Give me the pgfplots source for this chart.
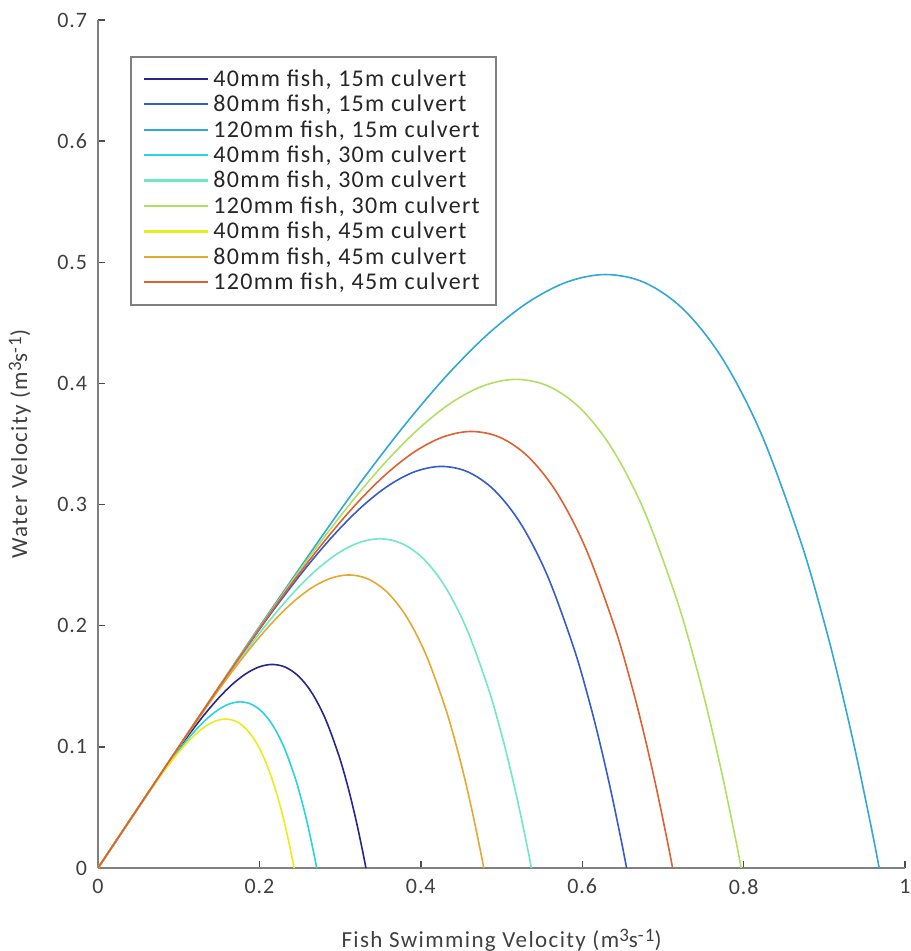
\documentclass[border=0pt]{standalone}
\usepackage{pgfplots}
\pgfplotsset{compat=1.18}
\usepackage{fontspec}
\setmainfont{Carlito}
\newfontfamily\trk[LetterSpace=6]{Carlito}
\newfontfamily\trkl[LetterSpace=5.5]{Carlito}
\newfontfamily\trkt[LetterSpace=4]{Carlito}
\newcommand\sups[1]{\raisebox{0.55ex}{\fontsize{9.5}{10}\selectfont #1}}
\definecolor{cA}{RGB}{38,38,140}
\definecolor{cB}{RGB}{52,92,204}
\definecolor{cC}{RGB}{48,168,216}
\definecolor{cD}{RGB}{40,212,224}
\definecolor{cE}{RGB}{112,232,200}
\definecolor{cF}{RGB}{176,224,96}
\definecolor{cG}{RGB}{236,236,24}
\definecolor{cH}{RGB}{232,168,48}
\definecolor{cI}{RGB}{224,96,48}
\definecolor{axgray}{RGB}{128,128,128}
\begin{document}
\begin{tikzpicture}[x=1pt,y=1pt]
\useasboundingbox (0,0) rectangle (455,475.5);
\begin{axis}[
  at={(49pt,41.5pt)}, anchor=south west,
  scale only axis, width=403.5pt, height=424pt,
  xmin=0, xmax=1, ymin=0, ymax=0.7,
  xtick={0,0.2,0.4,0.6,0.8,1}, ytick={0,0.1,0.2,0.3,0.4,0.5,0.6,0.7},
  axis x line*=bottom, axis y line*=left,
  axis line style={draw=axgray, line width=1.1pt},
  tick style={draw=black!70, line width=0.7pt},
  major tick length=3.5pt, tick align=inside,
  /pgf/number format/assume math mode=true,
  ticklabel style={font=\trkt\fontsize{11}{13}\selectfont, text=black!75},
  xticklabel style={yshift=-2pt},
  yticklabel style={xshift=-2pt},
  label style={font=\trk\fontsize{11.5}{13}\selectfont, text=black!75},
  xlabel={Fish Swimming Velocity (m\sups{3}s\sups{-1})},
  ylabel={Water Velocity (m\sups{3}s\sups{-1})},
  xlabel style={at={(axis description cs:0.5,-0.085)}, anchor=center},
  ylabel style={at={(axis description cs:-0.097,0.5)}, anchor=center},
  legend style={at={(0.04,0.957)}, anchor=north west, draw=axgray, line width=1pt,
    font=\trkl\fontsize{12}{13}\selectfont, text=black!85, row sep=-1.1pt, inner xsep=6pt, inner ysep=4pt},
  legend cell align=left,
  legend image code/.code={\draw[#1, line width=1.1pt] (0pt,0.3pt) -- (32pt,0.3pt);},
  every axis plot/.append style={line width=0.8pt, smooth, tension=0.55},
  clip=false,
]
\addplot[cA] coordinates {(0,0) (0.0332,0.03319) (0.0664,0.06616) (0.0996,0.09813) (0.1162,0.11325) (0.1328,0.12742) (0.1494,0.14027) (0.166,0.15133) (0.1826,0.16007) (0.1992,0.16587) (0.2158,0.16802) (0.2324,0.16571) (0.249,0.15803) (0.2656,0.14397) (0.2822,0.12242) (0.2988,0.09215) (0.30876,0.06926) (0.3154,0.05183) (0.32204,0.03257) (0.32868,0.01136) (0.332,0)};
\addlegendentry{40mm fish, 15m culvert}
\addplot[cB] coordinates {(0,0) (0.0655,0.06548) (0.131,0.13053) (0.1965,0.19359) (0.22925,0.22343) (0.262,0.2514) (0.29475,0.27673) (0.3275,0.29856) (0.36025,0.3158) (0.393,0.32724) (0.42575,0.33148) (0.4585,0.32692) (0.49125,0.31177) (0.524,0.28403) (0.55675,0.24152) (0.5895,0.18181) (0.60915,0.13663) (0.62225,0.10225) (0.63535,0.06425) (0.64845,0.02241) (0.655,0)};
\addlegendentry{80mm fish, 15m culvert}
\addplot[cC] coordinates {(0,0) (0.0968,0.09677) (0.1936,0.1929) (0.2904,0.2861) (0.3388,0.3302) (0.3872,0.37153) (0.4356,0.40897) (0.484,0.44122) (0.5324,0.46671) (0.5808,0.48362) (0.6292,0.48989) (0.6776,0.48315) (0.726,0.46075) (0.7744,0.41976) (0.8228,0.35694) (0.8712,0.26869) (0.90024,0.20192) (0.9196,0.15111) (0.93896,0.09495) (0.95832,0.03312) (0.968,0)};
\addlegendentry{120mm fish, 15m culvert}
\addplot[cD] coordinates {(0,0) (0.0271,0.02709) (0.0542,0.054) (0.0813,0.0801) (0.09485,0.09244) (0.1084,0.10401) (0.12195,0.11449) (0.1355,0.12352) (0.14905,0.13066) (0.1626,0.13539) (0.17615,0.13715) (0.1897,0.13526) (0.20325,0.12899) (0.2168,0.11752) (0.23035,0.09993) (0.2439,0.07522) (0.25203,0.05653) (0.25745,0.04231) (0.26287,0.02658) (0.26829,0.00927) (0.271,0)};
\addlegendentry{40mm fish, 30m culvert}
\addplot[cE] coordinates {(0,0) (0.0537,0.05368) (0.1074,0.10701) (0.1611,0.15872) (0.18795,0.18318) (0.2148,0.20611) (0.24165,0.22688) (0.2685,0.24477) (0.29535,0.25891) (0.3222,0.26829) (0.34905,0.27176) (0.3759,0.26803) (0.40275,0.2556) (0.4296,0.23286) (0.45645,0.19801) (0.4833,0.14906) (0.49941,0.11202) (0.51015,0.08383) (0.52089,0.05267) (0.53163,0.01837) (0.537,0)};
\addlegendentry{80mm fish, 30m culvert}
\addplot[cF] coordinates {(0,0) (0.0797,0.07968) (0.1594,0.15883) (0.2391,0.23556) (0.27895,0.27187) (0.3188,0.3059) (0.35865,0.33672) (0.3985,0.36328) (0.43835,0.38427) (0.4782,0.39819) (0.51805,0.40335) (0.5579,0.3978) (0.59775,0.37936) (0.6376,0.34561) (0.67745,0.29389) (0.7173,0.22122) (0.74121,0.16625) (0.75715,0.12442) (0.77309,0.07818) (0.78903,0.02727) (0.797,0)};
\addlegendentry{120mm fish, 30m culvert}
\addplot[cG] coordinates {(0,0) (0.0243,0.02429) (0.0486,0.04843) (0.0729,0.07182) (0.08505,0.08289) (0.0972,0.09327) (0.10935,0.10267) (0.1215,0.11076) (0.13365,0.11716) (0.1458,0.12141) (0.15795,0.12298) (0.1701,0.12129) (0.18225,0.11566) (0.1944,0.10537) (0.20655,0.0896) (0.2187,0.06745) (0.22599,0.05069) (0.23085,0.03793) (0.23571,0.02384) (0.24057,0.00831) (0.243,0)};
\addlegendentry{40mm fish, 45m culvert}
\addplot[cH] coordinates {(0,0) (0.0478,0.04779) (0.0956,0.09526) (0.1434,0.14128) (0.1673,0.16306) (0.1912,0.18346) (0.2151,0.20195) (0.239,0.21788) (0.2629,0.23046) (0.2868,0.23881) (0.3107,0.24191) (0.3346,0.23858) (0.3585,0.22752) (0.3824,0.20728) (0.4063,0.17626) (0.4302,0.13268) (0.44454,0.09971) (0.4541,0.07462) (0.46366,0.04689) (0.47322,0.01635) (0.478,0)};
\addlegendentry{80mm fish, 45m culvert}
\addplot[cI] coordinates {(0,0) (0.0712,0.07118) (0.1424,0.14189) (0.2136,0.21044) (0.2492,0.24288) (0.2848,0.27327) (0.3204,0.30081) (0.356,0.32454) (0.3916,0.34328) (0.4272,0.35572) (0.4628,0.36033) (0.4984,0.35537) (0.534,0.3389) (0.5696,0.30875) (0.6052,0.26254) (0.6408,0.19763) (0.66216,0.14852) (0.6764,0.11115) (0.69064,0.06984) (0.70488,0.02436) (0.712,0)};
\addlegendentry{120mm fish, 45m culvert}
\end{axis}
\end{tikzpicture}
\end{document}
